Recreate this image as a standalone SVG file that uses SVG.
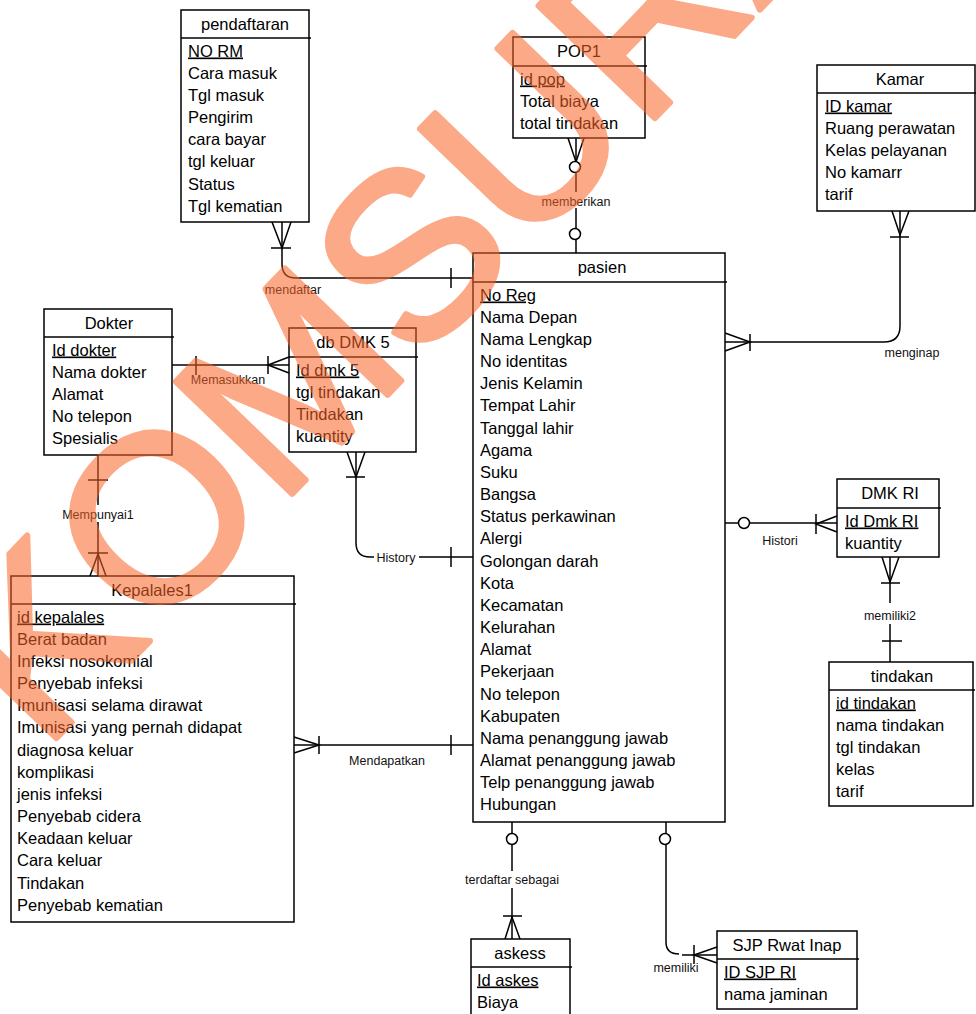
<svg xmlns="http://www.w3.org/2000/svg" width="976" height="1014" viewBox="0 0 976 1014">
  <style>
    .box { fill: #ffffff; stroke: #000000; stroke-width: 1.5; }
    .sep { stroke: #000000; stroke-width: 1.5; }
    .ttl { font-family: "Liberation Sans", Arial, sans-serif; font-size: 16.5px; fill: #000; text-anchor: middle; }
    .att { font-family: "Liberation Sans", Arial, sans-serif; font-size: 16.5px; fill: #000; }
    .pk { text-decoration: underline; }
    .ln { fill: none; stroke: #000000; stroke-width: 1.5; }
    .zero { fill: #ffffff; stroke: #000000; stroke-width: 1.5; }
    .lbl { font-family: "Liberation Sans", Arial, sans-serif; font-size: 12.5px; fill: #111; text-anchor: middle; }
    .wm { font-family: "Liberation Sans", Arial, sans-serif; font-size: 235px; fill: rgb(250,100,40); stroke: rgb(250,100,40); stroke-width: 6; stroke-linejoin: round; opacity: 0.55; }
  </style>

  <!-- relationships -->
  <g id="connectors">
    <!-- pendaftaran : pasien (mendaftar) -->
    <path class="ln" d="M282,222 V264 Q282,278 296,278 H473"/>
    <path class="ln" d="M272,222 L282,248 L291,222 M271,248 H291 M451,268 V288"/>
    <text class="lbl" x="293" y="294">mendaftar</text>

    <!-- POP1 : pasien (memberikan) -->
    <path class="ln" d="M576,138 V192 M576,208 V253"/>
    <path class="ln" d="M568,138 L576,162 L584,138"/>
    <circle class="zero" cx="575" cy="167" r="5.5"/>
    <circle class="zero" cx="575" cy="234" r="5.5"/>
    <text class="lbl" x="576" y="206">memberikan</text>

    <!-- Kamar : pasien (menginap) -->
    <path class="ln" d="M900,211 V326 Q900,342 884,342 H725"/>
    <path class="ln" d="M892,211 L900,235 L909,211 M890,237 H909"/>
    <path class="ln" d="M725,333 L750,342 L725,351 M750,334 V351"/>
    <text class="lbl" x="912" y="357">menginap</text>

    <!-- Dokter : db DMK 5 (Memasukkan) -->
    <path class="ln" d="M172,365 H289"/>
    <path class="ln" d="M196,356 V375"/>
    <path class="ln" d="M289,357 L268,365 L289,373 M268,356 V374"/>
    <text class="lbl" x="228" y="384">Memasukkan</text>

    <!-- Dokter : Kepalales1 (Mempunyai1) -->
    <path class="ln" d="M98,455 V505 M98,522 V576"/>
    <path class="ln" d="M88,480 H108 M88,553 H108"/>
    <path class="ln" d="M90,576 L98,554 L106,576"/>
    <text class="lbl" x="98" y="519">Mempunyai1</text>

    <!-- db DMK 5 : pasien (History) -->
    <path class="ln" d="M356,452 V543 Q356,557 370,557 H374 M419,557 H473"/>
    <path class="ln" d="M347,452 L356,477 L365,452 M346,477 H365"/>
    <path class="ln" d="M451,547 V567"/>
    <text class="lbl" x="396" y="561.5">History</text>

    <!-- Kepalales1 : pasien (Mendapatkan) -->
    <path class="ln" d="M294,745 H473"/>
    <path class="ln" d="M294,737 L319,745 L294,753 M319,736 V754"/>
    <path class="ln" d="M451,735 V755"/>
    <text class="lbl" x="387" y="765">Mendapatkan</text>

    <!-- pasien : DMK RI (Histori) -->
    <path class="ln" d="M725,523 H837"/>
    <circle class="zero" cx="744" cy="523" r="5.5"/>
    <path class="ln" d="M837,516 L816,524 L837,532 M816,514 V534"/>
    <text class="lbl" x="780" y="545">Histori</text>

    <!-- DMK RI : tindakan (memiliki2) -->
    <path class="ln" d="M890,557 V603 M890,624 V662"/>
    <path class="ln" d="M882,557 L890,582 L899,557 M881,583 H900"/>
    <path class="ln" d="M882,641 H902"/>
    <text class="lbl" x="890" y="620">memiliki2</text>

    <!-- pasien : askess (terdaftar sebagai) -->
    <path class="ln" d="M512,822 V871 M512,888 V939"/>
    <circle class="zero" cx="512" cy="839" r="5.5"/>
    <path class="ln" d="M503,916 H522 M505,939 L512,917 L520,939"/>
    <text class="lbl" x="512" y="884">terdaftar sebagai</text>

    <!-- pasien : SJP Rwat Inap (memiliki) -->
    <path class="ln" d="M666,822 V942 Q666,954 679,954 M682,955 H717"/>
    <circle class="zero" cx="665" cy="839" r="5.5"/>
    <path class="ln" d="M717,947 L694,955 L717,963 M694,945 V964"/>
    <text class="lbl" x="676" y="972">memiliki</text>
  </g>

  <!-- entities -->
  <g id="pendaftaran">
    <rect class="box" x="181" y="10" width="128" height="212"/>
    <line class="sep" x1="181" y1="38" x2="311" y2="38"/>
    <text class="ttl" x="245" y="29.5">pendaftaran</text>
    <text class="att pk" x="188" y="56.5">NO RM</text>
    <text class="att" x="188" y="78.7">Cara masuk</text>
    <text class="att" x="188" y="100.8">Tgl masuk</text>
    <text class="att" x="188" y="123">Pengirim</text>
    <text class="att" x="188" y="145.2">cara bayar</text>
    <text class="att" x="188" y="167.4">tgl keluar</text>
    <text class="att" x="188" y="189.5">Status</text>
    <text class="att" x="188" y="211.7">Tgl kematian</text>
  </g>

  <g id="POP1">
    <rect class="box" x="513" y="37" width="132" height="101"/>
    <line class="sep" x1="513" y1="66" x2="647" y2="66"/>
    <text class="ttl" x="579" y="57">POP1</text>
    <text class="att pk" x="520" y="84.5">id pop</text>
    <text class="att" x="520" y="106.7">Total biaya</text>
    <text class="att" x="520" y="128.8">total tindakan</text>
  </g>

  <g id="Kamar">
    <rect class="box" x="817" y="65" width="158" height="146"/>
    <line class="sep" x1="817" y1="93" x2="976" y2="93"/>
    <text class="ttl" x="900" y="84.5">Kamar</text>
    <text class="att pk" x="825" y="111.5">ID kamar</text>
    <text class="att" x="825" y="133.7">Ruang perawatan</text>
    <text class="att" x="825" y="155.8">Kelas pelayanan</text>
    <text class="att" x="825" y="178">No kamarr</text>
    <text class="att" x="825" y="200.2">tarif</text>
  </g>

  <g id="pasien">
    <rect class="box" x="473" y="253" width="252" height="569"/>
    <line class="sep" x1="473" y1="282" x2="727" y2="282"/>
    <text class="ttl" x="602" y="273">pasien</text>
    <text class="att pk" x="480" y="300.5">No Reg</text>
    <text class="att" x="480" y="322.7">Nama Depan</text>
    <text class="att" x="480" y="344.8">Nama Lengkap</text>
    <text class="att" x="480" y="367">No identitas</text>
    <text class="att" x="480" y="389.2">Jenis Kelamin</text>
    <text class="att" x="480" y="411.4">Tempat Lahir</text>
    <text class="att" x="480" y="433.5">Tanggal lahir</text>
    <text class="att" x="480" y="455.7">Agama</text>
    <text class="att" x="480" y="477.9">Suku</text>
    <text class="att" x="480" y="500">Bangsa</text>
    <text class="att" x="480" y="522.2">Status perkawinan</text>
    <text class="att" x="480" y="544.4">Alergi</text>
    <text class="att" x="480" y="566.5">Golongan darah</text>
    <text class="att" x="480" y="588.7">Kota</text>
    <text class="att" x="480" y="610.9">Kecamatan</text>
    <text class="att" x="480" y="633">Kelurahan</text>
    <text class="att" x="480" y="655.2">Alamat</text>
    <text class="att" x="480" y="677.4">Pekerjaan</text>
    <text class="att" x="480" y="699.6">No telepon</text>
    <text class="att" x="480" y="721.7">Kabupaten</text>
    <text class="att" x="480" y="743.9">Nama penanggung jawab</text>
    <text class="att" x="480" y="766.1">Alamat penanggung jawab</text>
    <text class="att" x="480" y="788.2">Telp penanggung jawab</text>
    <text class="att" x="480" y="810.4">Hubungan</text>
  </g>

  <g id="Dokter">
    <rect class="box" x="44" y="309" width="128" height="146"/>
    <line class="sep" x1="44" y1="337" x2="174" y2="337"/>
    <text class="ttl" x="109" y="328.5">Dokter</text>
    <text class="att pk" x="52" y="355.5">Id dokter</text>
    <text class="att" x="52" y="377.7">Nama dokter</text>
    <text class="att" x="52" y="399.8">Alamat</text>
    <text class="att" x="52" y="422">No telepon</text>
    <text class="att" x="52" y="444.2">Spesialis</text>
  </g>

  <g id="db-DMK-5">
    <rect class="box" x="289" y="328" width="127" height="124"/>
    <line class="sep" x1="289" y1="357" x2="418" y2="357"/>
    <text class="ttl" x="353" y="348">db DMK 5</text>
    <text class="att pk" x="296" y="375.5">Id dmk 5</text>
    <text class="att" x="296" y="397.7">tgl tindakan</text>
    <text class="att" x="296" y="419.8">Tindakan</text>
    <text class="att" x="296" y="442">kuantity</text>
  </g>

  <g id="Kepalales1">
    <rect class="box" x="11" y="576" width="283" height="346"/>
    <line class="sep" x1="11" y1="604" x2="296" y2="604"/>
    <text class="ttl" x="152" y="595.5">Kepalales1</text>
    <text class="att pk" x="17" y="622.5">id kepalales</text>
    <text class="att" x="17" y="644.7">Berat badan</text>
    <text class="att" x="17" y="666.8">Infeksi nosokomial</text>
    <text class="att" x="17" y="689">Penyebab infeksi</text>
    <text class="att" x="17" y="711.2">Imunisasi selama dirawat</text>
    <text class="att" x="17" y="733.4">Imunisasi yang pernah didapat</text>
    <text class="att" x="17" y="755.5">diagnosa keluar</text>
    <text class="att" x="17" y="777.7">komplikasi</text>
    <text class="att" x="17" y="799.9">jenis infeksi</text>
    <text class="att" x="17" y="822">Penyebab cidera</text>
    <text class="att" x="17" y="844.2">Keadaan keluar</text>
    <text class="att" x="17" y="866.4">Cara keluar</text>
    <text class="att" x="17" y="888.5">Tindakan</text>
    <text class="att" x="17" y="910.7">Penyebab kematian</text>
  </g>

  <g id="DMK-RI">
    <rect class="box" x="837" y="479" width="102" height="78"/>
    <line class="sep" x1="837" y1="508" x2="941" y2="508"/>
    <text class="ttl" x="890" y="499">DMK RI</text>
    <text class="att pk" x="845" y="526.5">Id Dmk RI</text>
    <text class="att" x="845" y="548.7">kuantity</text>
  </g>

  <g id="tindakan">
    <rect class="box" x="829" y="662" width="144" height="144"/>
    <line class="sep" x1="829" y1="690" x2="975" y2="690"/>
    <text class="ttl" x="902" y="681.5">tindakan</text>
    <text class="att pk" x="836" y="708.5">id tindakan</text>
    <text class="att" x="836" y="730.7">nama tindakan</text>
    <text class="att" x="836" y="752.8">tgl tindakan</text>
    <text class="att" x="836" y="775">kelas</text>
    <text class="att" x="836" y="797.2">tarif</text>
  </g>

  <g id="askess">
    <rect class="box" x="471" y="939" width="99" height="84"/>
    <line class="sep" x1="471" y1="967" x2="572" y2="967"/>
    <text class="ttl" x="520" y="958.5">askess</text>
    <text class="att pk" x="477" y="985.5">Id askes</text>
    <text class="att" x="477" y="1007.7">Biaya</text>
  </g>

  <g id="SJP-Rwat-Inap">
    <rect class="box" x="717" y="931" width="140" height="78"/>
    <line class="sep" x1="717" y1="959" x2="859" y2="959"/>
    <text class="ttl" x="787" y="950.5">SJP Rwat Inap</text>
    <text class="att pk" x="724" y="977.5">ID SJP RI</text>
    <text class="att" x="724" y="999.7">nama jaminan</text>
  </g>

  <!-- diagonal watermark -->
  <text class="wm" transform="translate(43,752) rotate(-46)">KOMSURA</text>
</svg>
